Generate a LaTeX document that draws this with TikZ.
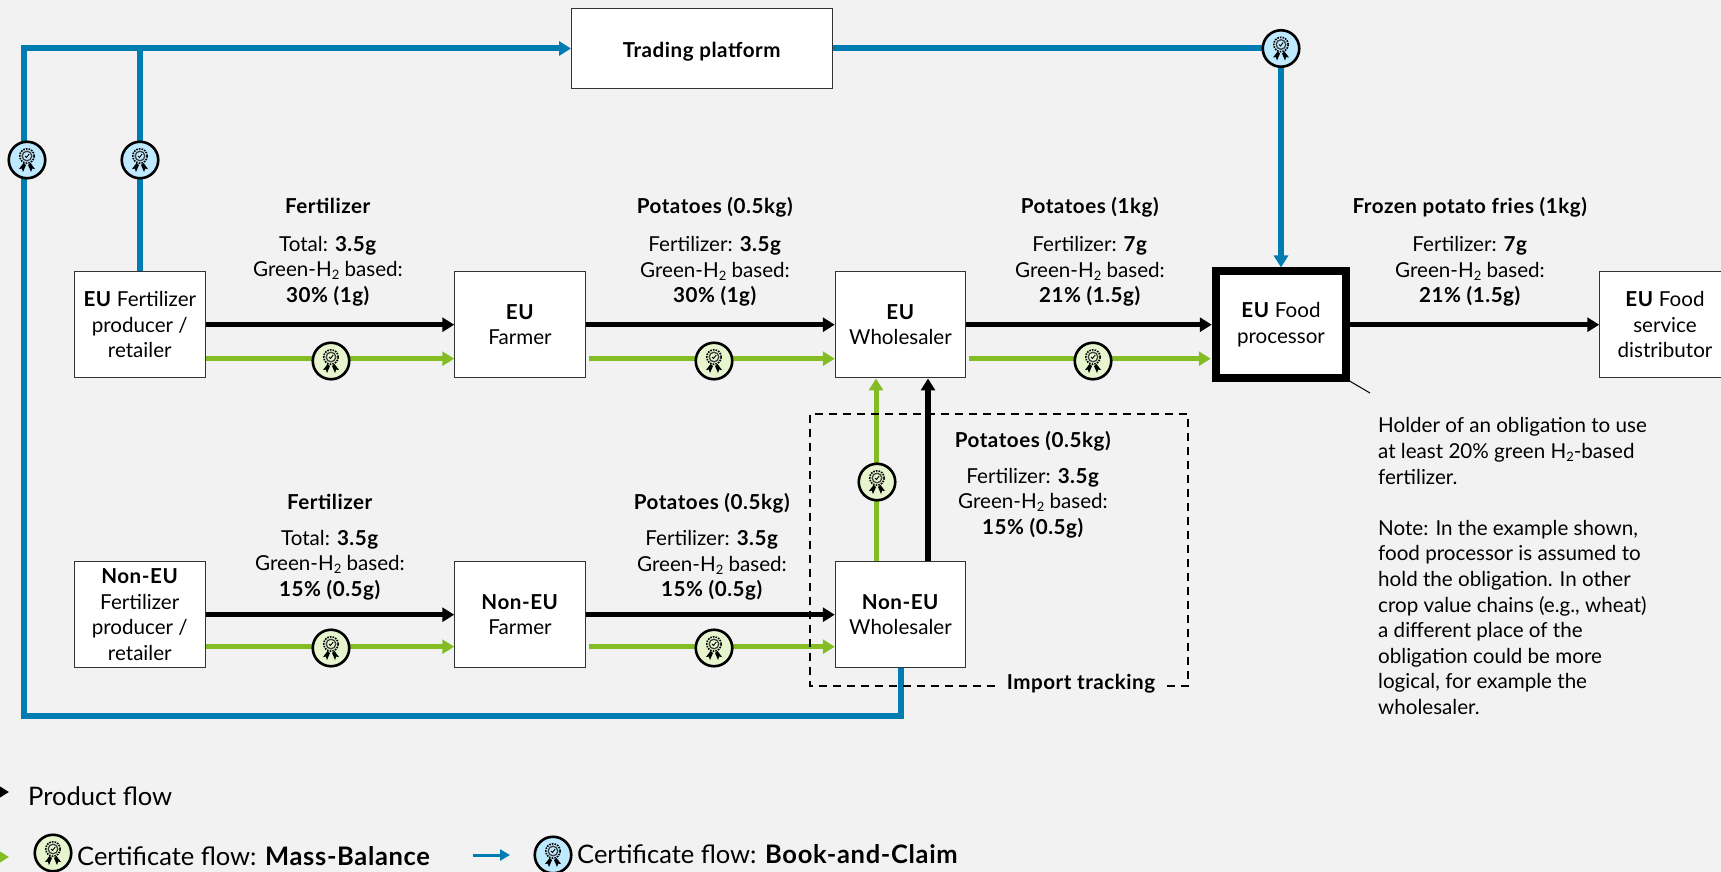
\documentclass[tikz,border=0pt]{standalone}
\usepackage{fontspec}
\setmainfont{Lato}[BoldFeatures={LetterSpace=2.6}]
\usetikzlibrary{arrows.meta}
\definecolor{bgc}{HTML}{F2F2F2}
\definecolor{bluec}{HTML}{007CB2}
\definecolor{greenc}{HTML}{84BC24}
\definecolor{greent}{HTML}{E6F5CE}
\definecolor{bluet}{HTML}{BEE9FF}
\newcommand{\txt}{\fontsize{20.6}{25.6}\selectfont}
\newcommand{\lgd}{\fontsize{25.5}{30}\selectfont}
\newcommand{\ssub}{\raisebox{-0.3ex}{\fontsize{13}{13}\selectfont 2}}
\newcommand{\lgb}[1]{\textbf{\addfontfeatures{LetterSpace=6}#1}}
\tikzset{
 x=1pt,y=-1pt,
 flowbox/.style={draw=black!80,line width=1pt,fill=white,minimum width=130.5pt,minimum height=106.5pt,inner sep=0pt,align=center,font=\txt},
 lab/.style={align=center,font=\txt,inner sep=0pt},
 prod/.style={black,line width=5.5pt,-{Triangle[length=12pt,width=14pt]}},
 gflow/.style={greenc,line width=5pt,-{Triangle[length=12pt,width=14pt]}},
 bflow/.style={bluec,line width=6pt,miter limit=10,-{Triangle[length=12pt,width=14pt]}},
 bline/.style={bluec,line width=6pt},
 gseal/.style={circle,draw=black,line width=2.6pt,fill=greent,minimum size=36.5pt,inner sep=0pt},
 bseal/.style={circle,draw=black,line width=2.6pt,fill=bluet,minimum size=36.5pt,inner sep=0pt},
 seal/.pic={
  \draw[black,line width=1.6pt,dash pattern=on 1.6pt off 1.1pt] (0,-4) circle (7.2pt);
  \draw[black!75,line width=1.3pt] (0,-4) circle (4.8pt);
  \draw[black,line width=0.9pt] (-2,-4) -- (-0.5,-2.5) -- (2.2,-6);
  \fill[black] (-3.5,3) -- (-8,9) -- (-5.2,8.6) -- (-4,12) -- (-1,5) -- cycle;
  \fill[black] (3.5,3) -- (8,9) -- (5.2,8.6) -- (4,12) -- (1,5) -- cycle;
 }
}
\begin{document}
\begin{tikzpicture}
\useasboundingbox (0,0) rectangle (1721,872);
\clip (0,0) rectangle (1721,872);
\fill[bgc] (0,0) rectangle (1721,872);

% boxes (positions)
\node[flowbox,minimum width=261pt,minimum height=80.5pt] (tp) at (702,48.5) {\rule{0pt}{21pt}\textbf{Trading platform}};
\node[flowbox] (ef) at (139.8,324.7) {\textbf{EU} Fertilizer\\producer /\\retailer};
\node[flowbox] (ea) at (520,324.7) {\textbf{EU}\\Farmer};
\node[flowbox] (ew) at (900.5,324.7) {\textbf{EU}\\Wholesaler};
\node[flowbox,draw=black,line width=8pt] (ep) at (1281,324.7) {\textbf{EU} Food\\processor};
\node[flowbox] (ed) at (1665,324.7) {\textbf{EU} Food\\service\\distributor};
\node[flowbox] (nf) at (139.8,614.7) {\textbf{Non-EU}\\Fertilizer\\producer /\\retailer};
\node[flowbox] (na) at (520,614.7) {\textbf{Non-EU}\\Farmer};
\node[flowbox] (nw) at (900.5,614.7) {\textbf{Non-EU}\\Wholesaler};

% coordinates
\coordinate (blb) at (23.5,716);
\coordinate (blt) at (23.5,48.5);
\coordinate (bjn) at (139.8,48.5);
\coordinate (lpa) at (-10,792);
\coordinate (lpb) at (9,792);
\coordinate (lga) at (-10,857);
\coordinate (lgb) at (9,857);
\coordinate (lba) at (473,855);
\coordinate (lbb) at (510,855);
\coordinate (pa) at (1349.5,381);
\coordinate (pb) at (1370,393);

% product flows
\draw[prod] (ef) -- (ea);
\draw[prod] (ea) -- (ew);
\draw[prod] (ew) -- (ep);
\draw[prod] (ep) -- (ed);
\draw[prod] (nf) -- (na);
\draw[prod] (na) -- (nw);
\draw[prod] ([xshift=27.5pt]nw.north) -- ([xshift=27.5pt]ew.south);

% mass balance
\draw[gflow] ([yshift=-34pt]ef.east) -- ([yshift=-34pt]ea.west);
\draw[gflow] ([xshift=3pt,yshift=-34pt]ea.east) -- ([yshift=-34pt]ew.west);
\draw[gflow] ([xshift=3pt,yshift=-34pt]ew.east) -- ([xshift=-1pt,yshift=-34pt]ep.west);
\draw[gflow] ([yshift=-32pt]nf.east) -- ([yshift=-32pt]na.west);
\draw[gflow] ([xshift=3pt,yshift=-32pt]na.east) -- ([yshift=-32pt]nw.west);
\draw[gflow] ([xshift=-24.5pt]nw.north) -- ([xshift=-24.5pt]ew.south);

% book and claim
\draw[bflow] (nw.south) |- (blb) -- (blt) -- (tp.west);
\draw[bline] (ef.north) -- (bjn);
\draw[bflow] (tp.east) -| (ep.north);

% import tracking
\draw[black,line width=1.5pt,dash pattern=on 8pt off 6pt] (995,686) -- (810,686) -- (810,414) -- (1188,414) -- (1188,686) -- (1167,686);
\node[lab,font=\txt\bfseries] (it) at (1081,684) {Import tracking};

% redraw boxes touched by lines
\node[flowbox] at (nw) {\textbf{Non-EU}\\Wholesaler};

% seals
\node[bseal] (s1) at (27,160) {}; \pic at (s1) {seal};
\node[bseal] (s2) at (140,160) {}; \pic at (s2) {seal};
\node[bseal] (s3) at (1281,48.5) {}; \pic at (s3) {seal};
\node[gseal] (s4) at (331,361) {}; \pic at (s4) {seal};
\node[gseal] (s5) at (714,361) {}; \pic at (s5) {seal};
\node[gseal] (s6) at (1093,361) {}; \pic at (s6) {seal};
\node[gseal] (s7) at (331,648) {}; \pic at (s7) {seal};
\node[gseal] (s8) at (714,648) {}; \pic at (s8) {seal};
\node[gseal] (s9) at (877,482) {}; \pic at (s9) {seal};

% labels
\node[lab] (l1) at (328,252) {\textbf{Fertilizer}\\[12pt]Total: \textbf{3.5g}\\Green-H\ssub{} based:\\\textbf{30\% (1g)}};
\node[lab] (l2) at (715,252) {\textbf{Potatoes (0.5kg)}\\[12pt]Fertilizer: \textbf{3.5g}\\Green-H\ssub{} based:\\\textbf{30\% (1g)}};
\node[lab] (l3) at (1090,252) {\textbf{Potatoes (1kg)}\\[12pt]Fertilizer: \textbf{7g}\\Green-H\ssub{} based:\\\textbf{21\% (1.5g)}};
\node[lab] (l4) at (1470,252) {\textbf{Frozen potato fries (1kg)}\\[12pt]Fertilizer: \textbf{7g}\\Green-H\ssub{} based:\\\textbf{21\% (1.5g)}};
\node[lab] (l5) at (330,547) {\textbf{Fertilizer}\\[10.5pt]Total: \textbf{3.5g}\\Green-H\ssub{} based:\\\textbf{15\% (0.5g)}};
\node[lab] (l6) at (712,547) {\textbf{Potatoes (0.5kg)}\\[10.5pt]Fertilizer: \textbf{3.5g}\\Green-H\ssub{} based:\\\textbf{15\% (0.5g)}};
\node[lab] (l7) at (1033,484.5) {\textbf{Potatoes (0.5kg)}\\[10.5pt]Fertilizer: \textbf{3.5g}\\Green-H\ssub{} based:\\\textbf{15\% (0.5g)}};

% note
\node[lab,align=left,anchor=north west] (note) at (1378,417.5) {Holder of an obligation to use\\at least 20\% green H\ssub-based\\fertilizer.\\[25.6pt]Note: In the example shown,\\food processor is assumed to\\hold the obligation. In other\\crop value chains (e.g., wheat)\\a different place of the\\obligation could be more\\logical, for example the\\wholesaler.};
\draw[black,line width=1pt] (pa) -- (pb);

% legend
\draw[prod,line width=4pt] (lpa) -- (lpb);
\draw[gflow,line width=3pt] (lga) -- (lgb);
\draw[bflow,line width=3pt,-{Triangle[length=10pt,width=11pt]}] (lba) -- (lbb);
\node[lab,anchor=west,font=\lgd] (lt1) at (28,796) {Product flow};
\node[gseal] (s10) at (53,853) {}; \pic at (s10) {seal};
\node[lab,anchor=west,font=\lgd] (lt2) at (77,856) {Certificate flow: \lgb{Mass-Balance}};
\node[bseal] (s11) at (553,855) {}; \pic at (s11) {seal};
\node[lab,anchor=west,font=\lgd] (lt3) at (577,854) {Certificate flow: \lgb{Book-and-Claim}};
\end{tikzpicture}
\end{document}
